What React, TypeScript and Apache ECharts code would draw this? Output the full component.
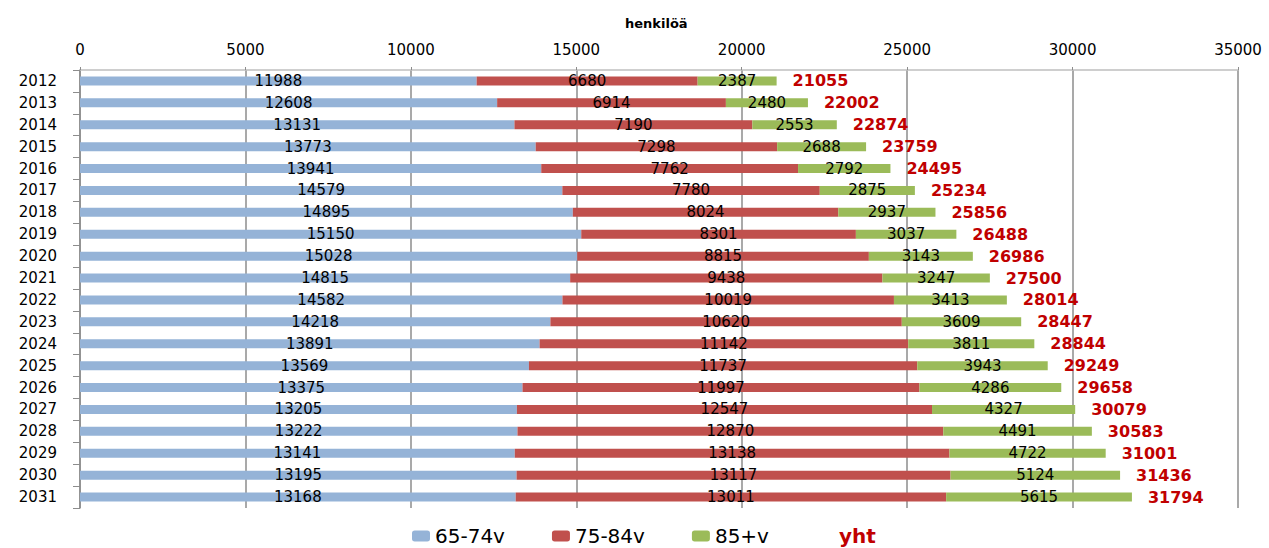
import React, { useEffect, useRef } from "react";
import * as echarts from "echarts";

const years = ["2012","2013","2014","2015","2016","2017","2018","2019","2020","2021","2022","2023","2024","2025","2026","2027","2028","2029","2030","2031"];
const age6574 = [11988,12608,13131,13773,13941,14579,14895,15150,15028,14815,14582,14218,13891,13569,13375,13205,13222,13141,13195,13168];
const age7584 = [6680,6914,7190,7298,7762,7780,8024,8301,8815,9438,10019,10620,11142,11737,11997,12547,12870,13138,13117,13011];
const age85 = [2387,2480,2553,2688,2792,2875,2937,3037,3143,3247,3413,3609,3811,3943,4286,4327,4491,4722,5124,5615];
const totals = [21055,22002,22874,23759,24495,25234,25856,26488,26986,27500,28014,28447,28844,29249,29658,30079,30583,31001,31436,31794];
const xTicks = { min: 0, max: 35000, interval: 5000 };

const FONT = "DejaVu Sans";

export default function App() {
  const ref = useRef<HTMLDivElement>(null);
  useEffect(() => {
    if (!ref.current) return;
    const chart = echarts.init(ref.current, null, { renderer: "svg" });
    const segLabel = {
      show: true,
      position: "inside",
      color: "#000",
      fontFamily: FONT,
      fontSize: 15,
    };
    const common = {
      type: "bar",
      stack: "a",
      barWidth: 9,
      barGap: "-100%",
    };
    chart.setOption({
      animation: false,
      textStyle: { fontFamily: FONT },
      title: {
        text: "henkilöä",
        left: 620,
        top: 12,
        textStyle: { fontFamily: FONT, fontSize: 13, fontWeight: "bold", color: "#000" },
      },
      legend: {
        left: 407,
        top: 521,
        itemWidth: 18,
        itemHeight: 11,
        itemGap: 47,
        textStyle: { fontFamily: FONT, fontSize: 20, color: "#000" },
        data: [
          { name: "65-74v" },
          { name: "75-84v" },
          { name: "85+v" },
          { name: "yht", icon: "none", textStyle: { color: "#C00000", fontWeight: "bold", fontSize: 20 } },
        ],
      },
      grid: { left: 80, right: 31, top: 70, bottom: 40, containLabel: false },
      xAxis: {
        type: "value",
        position: "top",
        min: xTicks.min,
        max: xTicks.max,
        interval: xTicks.interval,
        axisLine: { show: true, lineStyle: { color: "#BFBFBF", width: 1.5 } },
        axisTick: { show: true, length: 3, lineStyle: { color: "#8C8C8C" } },
        splitLine: { show: true, lineStyle: { color: "#8C8C8C", width: 1.5 } },
        axisLabel: {
          color: "#000",
          fontSize: 15,
          fontFamily: FONT,
          margin: 13,
          formatter: (v: number) => String(v),
        },
      },
      yAxis: {
        type: "category",
        inverse: true,
        data: years,
        axisLine: { show: true, lineStyle: { color: "#8C8C8C", width: 1.5 } },
        axisTick: { show: true, length: 7, alignWithLabel: false, lineStyle: { color: "#8C8C8C" } },
        axisLabel: { color: "#000", fontSize: 15, fontFamily: FONT, margin: 23 },
      },
      series: [
        { ...common, name: "65-74v", data: age6574, itemStyle: { color: "#95B3D7" }, label: segLabel },
        { ...common, name: "75-84v", data: age7584, itemStyle: { color: "#C0504D" }, label: segLabel },
        { ...common, name: "85+v", data: age85, itemStyle: { color: "#9BBB59" }, label: segLabel },
        {
          type: "bar",
          name: "yht",
          barWidth: 9,
          barGap: "-100%",
          data: totals,
          itemStyle: { color: "rgba(0,0,0,0)" },
          z: 1,
          label: {
            show: true,
            position: "right",
            distance: 16,
            color: "#C00000",
            fontWeight: "bold",
            fontFamily: FONT,
            fontSize: 16,
          },
        },
      ],
    });
    return () => chart.dispose();
  }, []);
  return (
    <div
      ref={ref}
      style={{ position: "absolute", left: 0, top: 0, width: 1269, height: 548, background: "#fff" }}
    />
  );
}
